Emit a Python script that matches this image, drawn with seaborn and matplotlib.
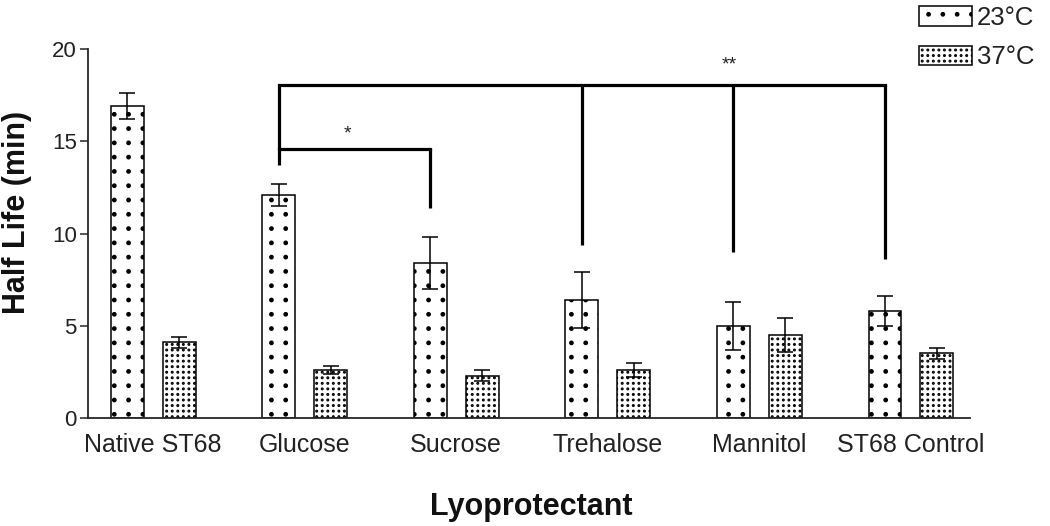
import numpy as np
import pandas as pd
import matplotlib
matplotlib.use("Agg")
import matplotlib.pyplot as plt
import matplotlib.hatch as mhatch
import seaborn as sns
from matplotlib.patches import Patch

# ---- data ----
categories = ["Native ST68", "Glucose", "Sucrose", "Trehalose", "Mannitol", "ST68 Control"]
temps = ["23°C", "37°C"]
half_life_23 = [16.9, 12.1, 8.4, 6.4, 5.0, 5.8]
half_life_37 = [4.1, 2.6, 2.3, 2.6, 4.5, 3.5]
sd_23 = [0.7, 0.6, 1.4, 1.5, 1.3, 0.8]
sd_37 = [0.3, 0.2, 0.3, 0.4, 0.9, 0.3]
yticks = [0, 5, 10, 15, 20]

# significance annotations (levels in data units)
sig_big_level = 18.05
sig_big_targets = ["Glucose", "Trehalose", "Mannitol", "ST68 Control"]
sig_big_ends = [13.7, 9.4, 9.0, 8.6]
sig_small_level = 14.6
sig_small_targets = ["Glucose", "Sucrose"]
sig_small_ends = [14.6, 11.4]


# ---- square-grid dot hatch (instead of matplotlib's staggered dots) ----
try:
    class GridDots(mhatch.SmallFilledCircles):
        def __init__(self, hatch, density):
            n = hatch.count('.')
            self.num_rows = 7 if n == 1 else n * density
            path = matplotlib.path.Path.unit_circle()
            self.shape_vertices = path.vertices
            self.shape_codes = path.codes
            self.num_shapes = (self.num_rows + 1) ** 2 if self.num_rows else 0
            self.num_vertices = self.num_shapes * len(self.shape_vertices)

        def set_vertices_and_codes(self, vertices, codes):
            offset = 1.0 / self.num_rows
            sv = self.shape_vertices * offset * self.size
            vparts, cparts = [], []
            cols = np.linspace(0, 1, self.num_rows + 1)
            for row in range(self.num_rows + 1):
                for c in cols:
                    vparts.append(sv + [c, row * offset])
                    cparts.append(self.shape_codes)
            np.concatenate(vparts, out=vertices)
            np.concatenate(cparts, out=codes)

    mhatch._hatch_types = [GridDots if t is mhatch.SmallFilledCircles else t
                           for t in mhatch._hatch_types]
except Exception:
    pass

sns.set_theme(style="ticks")
plt.rcParams["font.family"] = ["Liberation Sans", "DejaVu Sans"]
plt.rcParams["hatch.linewidth"] = 1.35

df = pd.DataFrame({
    "Lyoprotectant": categories * 2,
    "Temp": [temps[0]] * len(categories) + [temps[1]] * len(categories),
    "Half Life": half_life_23 + half_life_37,
})

fig = plt.figure(figsize=(10.5, 5.26), dpi=100)
ax = fig.add_axes([0.0838, 0.2053, 0.840, 0.7015])

sns.barplot(data=df, x="Lyoprotectant", y="Half Life", hue="Temp", order=categories,
            hue_order=temps, palette=["white", "white"], edgecolor="black", linewidth=1.1,
            width=0.684, gap=0.365, errorbar=None, legend=False, ax=ax)

hatches = [".", "..."]
sds = [sd_23, sd_37]
vals = [half_life_23, half_life_37]
centers = []
for cont, h, sd, v in zip(ax.containers, hatches, sds, vals):
    xs = []
    for bar in cont:
        bar.set_hatch(h)
        bar.set_facecolor("white")
        bar.set_edgecolor("black")
        xs.append(bar.get_x() + bar.get_width() / 2)
    centers.append(xs)
    ax.errorbar(xs, v, yerr=sd, fmt="none", ecolor="black", elinewidth=1.1,
                capsize=6, capthick=1.1, zorder=5)

c23 = dict(zip(categories, centers[0]))

# big bracket
bx = [c23[t] for t in sig_big_targets]
ax.plot([bx[0], bx[-1]], [sig_big_level, sig_big_level], color="black", lw=2.3,
        solid_capstyle="projecting", clip_on=False)
for x, e in zip(bx, sig_big_ends):
    ax.plot([x, x], [sig_big_level, e], color="black", lw=2.3,
            solid_capstyle="butt", clip_on=False)
# small bracket
sx = [c23[t] for t in sig_small_targets]
ax.plot([sx[0], sx[1]], [sig_small_level, sig_small_level], color="black", lw=2.3,
        solid_capstyle="projecting")
ax.plot([sx[1], sx[1]], [sig_small_level, sig_small_ends[1]], color="black", lw=2.3,
        solid_capstyle="butt")
ax.text((sx[0] + sx[1]) / 2 - 0.05, 14.95, "*", ha="center", va="bottom", fontsize=14,
        color="#222222")
ax.text(c23["Mannitol"] - 0.03, 18.7, "**", ha="center", va="bottom", fontsize=14,
        color="#222222")

ax.set_xlim(-0.43, 5.39)
ax.set_ylim(0, 20)
ax.set_yticks(yticks)
ax.tick_params(axis="y", direction="out", length=6, width=1.1, labelsize=16,
               labelcolor="#222222", pad=2)
ax.tick_params(axis="x", length=0, labelsize=18, labelcolor="#222222", pad=11)
for s in ["left", "bottom"]:
    ax.spines[s].set_linewidth(1.3)
sns.despine(ax=ax)

ax.set_ylabel("Half Life (min)", fontsize=22, fontweight="bold", color="#111111")
ax.yaxis.set_label_coords(-0.063, 0.556)
ax.set_xlabel("Lyoprotectant", fontsize=22, fontweight="bold", color="#111111")
ax.xaxis.set_label_coords(0.502, -0.2)

handles = [Patch(facecolor="white", edgecolor="black", hatch=h, linewidth=1.1) for h in hatches]
fig.legend(handles, temps, loc="upper right", bbox_to_anchor=(1.0, 1.018), frameon=False,
           fontsize=18.5, handlelength=2.05, handleheight=0.8, handletextpad=0.2,
           labelspacing=0.6, borderaxespad=0.2, labelcolor="#222222")

fig.savefig("out.png", dpi=100)
